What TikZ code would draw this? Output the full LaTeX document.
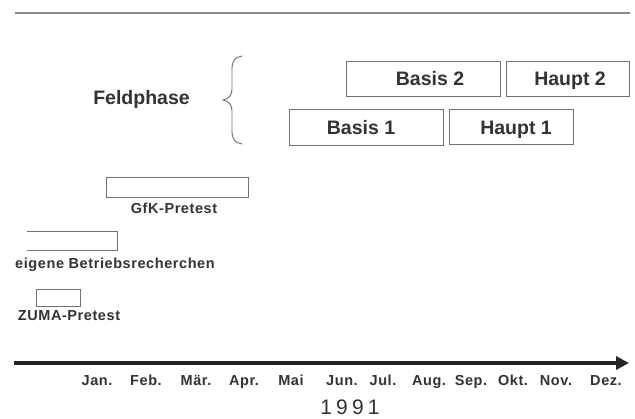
\documentclass[tikz,border=0pt]{standalone}
\usepackage{fontspec}
\setmainfont{Liberation Sans}
\newfontfamily\bigfont{Liberation Sans}
\newfontfamily\smfont[LetterSpace=4]{Liberation Sans}
\newfontfamily\yearfont[LetterSpace=20]{Liberation Sans}
\usetikzlibrary{arrows.meta}
\definecolor{ink}{HTML}{333333}
\definecolor{edge}{HTML}{707070}
\definecolor{axis}{HTML}{252525}
\definecolor{rule}{HTML}{8A8A8A}
\begin{document}
\begin{tikzpicture}[x=1pt,y=-1pt,
  bar/.style={draw=edge, line width=0.9pt, inner sep=0pt, outer sep=0pt, anchor=north west},
  bigtxt/.style={text=ink, font=\bigfont\bfseries\fontsize{19.5}{22}\selectfont, inner sep=0pt, anchor=base},
  smtxt/.style={text=ink, font=\smfont\bfseries\fontsize{14.5}{16}\selectfont, inner sep=0pt, anchor=base},
  yeartxt/.style={text=ink, font=\yearfont\fontsize{21}{24}\selectfont, inner sep=0pt, text depth=0pt, anchor=base},
]
\useasboundingbox (0,0) rectangle (635,418);
\fill[white] (0,0) rectangle (635,418);

% top rule
\coordinate (t0) at (15,13);
\coordinate (t1) at (630,13);
\draw[rule, line width=1.3pt] (t0) -- (t1);

% Feldphase and brace
\node[bigtxt] (feld) at (141.5,104) {Feldphase};
\coordinate (br0) at (242,56);
\coordinate (brm) at (223,100);
\coordinate (br1) at (242,144);
\draw[edge, line width=0.9pt] (br0) .. controls (235,57) and (232,61) .. (232,69) -- (232,89)
  .. controls (232,95) and (229,99) .. (brm)
  .. controls (229,101) and (232,105) .. (232,111) -- (232,131)
  .. controls (232,139) and (235,143) .. (br1);

% field phase boxes
\node[bar, minimum width=154pt, minimum height=35pt] (b2) at (346,61) {};
\node[bar, minimum width=123pt, minimum height=35pt] (h2) at (506,61) {};
\node[bar, minimum width=154pt, minimum height=36pt] (b1) at (289,109) {};
\node[bar, minimum width=124pt, minimum height=35pt] (h1) at (449,109) {};
\node[bigtxt] (b2t) at (430,85.5) {Basis 2};
\node[bigtxt] (h2t) at (570,85.5) {Haupt 2};
\node[bigtxt] (b1t) at (361,134) {Basis 1};
\node[bigtxt] (h1t) at (516,134) {Haupt 1};

% pretests
\node[bar, minimum width=142pt, minimum height=20pt] (gfk) at (106,177) {};
\node[smtxt] (gfkt) at (174,213) {GfK-Pretest};

\coordinate (e1) at (27,231);
\coordinate (e2) at (117,231);
\coordinate (e3) at (117,250);
\coordinate (e4) at (27,250);
\draw[edge, line width=0.9pt] (e1) -- (e2) -- (e3) -- (e4);
\node[smtxt] (eigt) at (115,268) {eigene Betriebsrecherchen};

\node[bar, minimum width=44pt, minimum height=17pt] (zuma) at (36,289) {};
\node[smtxt] (zumat) at (69,320) {ZUMA-Pretest};

% time axis
\coordinate (a0) at (14,363);
\coordinate (a1) at (629,363);
\draw[axis, line width=3.5pt, -{Triangle[length=13pt,width=13pt]}] (a0) -- (a1);

\node[smtxt] (m1) at (97,385.5) {Jan.};
\node[smtxt] (m2) at (146,385.5) {Feb.};
\node[smtxt] (m3) at (196,385.5) {Mär.};
\node[smtxt] (m4) at (244,385.5) {Apr.};
\node[smtxt] (m5) at (291,385.5) {Mai};
\node[smtxt] (m6) at (342,385.5) {Jun.};
\node[smtxt] (m7) at (383,385.5) {Jul.};
\node[smtxt] (m8) at (429,385.5) {Aug.};
\node[smtxt] (m9) at (471,385.5) {Sep.};
\node[smtxt] (m10) at (513,385.5) {Okt.};
\node[smtxt] (m11) at (556,385.5) {Nov.};
\node[smtxt] (m12) at (606,385.5) {Dez.};

\node[yeartxt] (year) at (350,414) {1991};
\end{tikzpicture}
\end{document}
